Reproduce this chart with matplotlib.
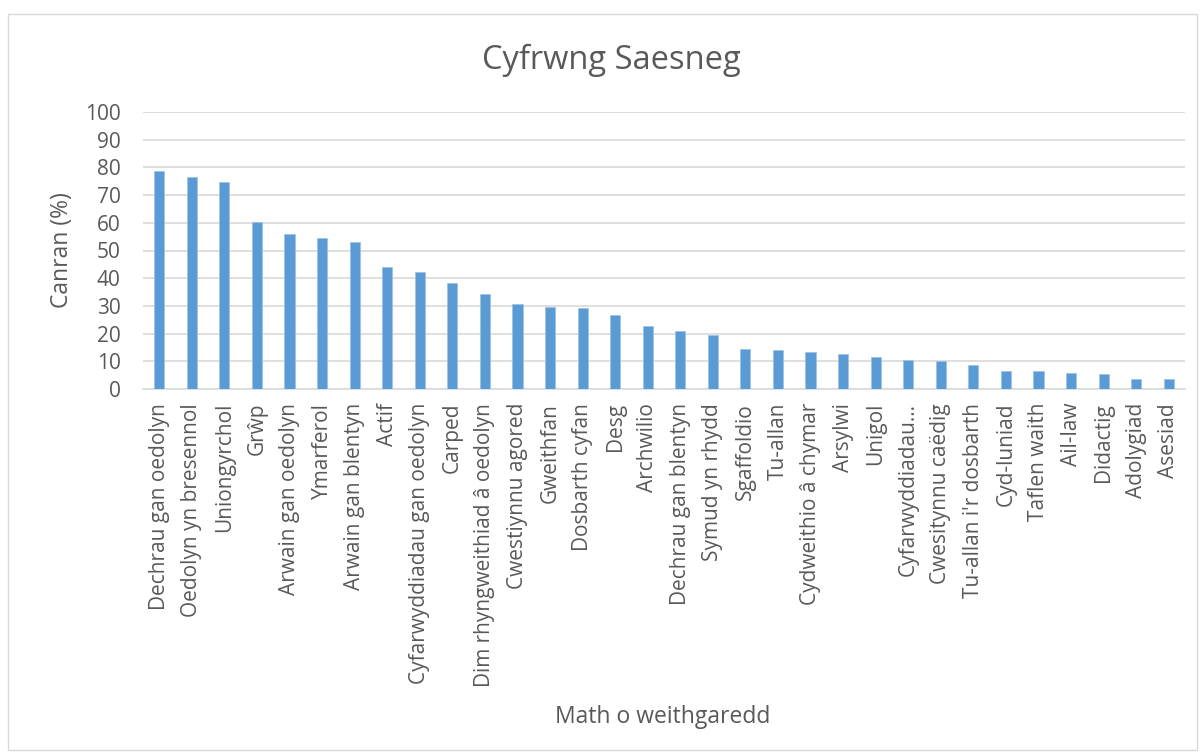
import matplotlib
matplotlib.use("Agg")
import matplotlib.pyplot as plt
from matplotlib.patches import Rectangle

categories = [
    "Dechrau gan oedolyn", "Oedolyn yn bresennol", "Uniongyrchol", "Grŵp",
    "Arwain gan oedolyn", "Ymarferol", "Arwain gan blentyn", "Actif",
    "Cyfarwyddiadau gan oedolyn", "Carped", "Dim rhyngweithiad â oedolyn",
    "Cwestiynnu agored", "Gweithfan", "Dosbarth cyfan", "Desg", "Archwilio",
    "Dechrau gan blentyn", "Symud yn rhydd", "Sgaffoldio", "Tu-allan",
    "Cydweithio â chymar", "Arsylwi", "Unigol", "Cyfarwyddiadau…",
    "Cwesitynnu caëdig", "Tu-allan i'r dosbarth", "Cyd-luniad", "Taflen waith",
    "Ail-law", "Didactig", "Adolygiad", "Asesiad",
]
values = [
    78.8, 76.4, 74.9, 60.3, 55.9, 54.4, 52.9, 44.0,
    42.4, 38.4, 34.2, 30.8, 29.5, 29.2, 26.6, 22.8,
    21.0, 19.6, 14.4, 14.1, 13.3, 12.6, 11.7, 10.5,
    10.1, 8.7, 6.6, 6.6, 5.9, 5.3, 3.7, 3.7,
]
yticks = [0, 10, 20, 30, 40, 50, 60, 70, 80, 90, 100]

title = "Cyfrwng Saesneg"
ylabel = "Canran (%)"
xlabel = "Math o weithgaredd"

plt.rcParams['font.family'] = ['Open Sans', 'DejaVu Sans']
W, H = 1202, 756
fig = plt.figure(figsize=(W / 100, H / 100), dpi=100)
fig.patches.append(Rectangle((8 / W, 6 / H), 1189 / W, 736 / H, transform=fig.transFigure,
                             fill=False, edgecolor="#D9D9D9", linewidth=1))

ax = fig.add_axes([143 / W, 1 - 389 / H, (1185 - 143) / W, (389 - 112) / H])
x = list(range(len(categories)))
ax.bar(x, values, width=0.31, color="#5B9BD5", edgecolor="#9DC3E6", linewidth=0.6, zorder=3)
ax.set_xlim(-0.5, len(categories) - 0.5)
ax.set_ylim(0, 100)
ax.set_yticks(yticks)
ax.set_yticklabels([str(t) for t in yticks], fontsize=15, color="#595959")
ax.set_xticks(x)
ax.set_xticklabels(categories, rotation=90, fontsize=15, color="#595959")
ax.tick_params(axis="y", length=0, pad=16)
ax.tick_params(axis="x", length=0, pad=10)
ax.grid(axis="y", color="#D9D9D9", linewidth=1.2, zorder=0)
for s in ["top", "right", "left"]:
    ax.spines[s].set_visible(False)
ax.spines["bottom"].set_color("#D9D9D9")
ax.spines["bottom"].set_linewidth(1.2)

fig.text(611 / W, 1 - 60 / H, title, ha="center", va="center", fontsize=23.5, color="#595959")
fig.text(62 / W, 1 - 250 / H, ylabel, ha="center", va="center", rotation=90, fontsize=16.5, color="#595959")
fig.text(663 / W, 1 - 717 / H, xlabel, ha="center", va="center", fontsize=16.5, color="#595959")

fig.savefig("out.png", dpi=100, facecolor="white")
